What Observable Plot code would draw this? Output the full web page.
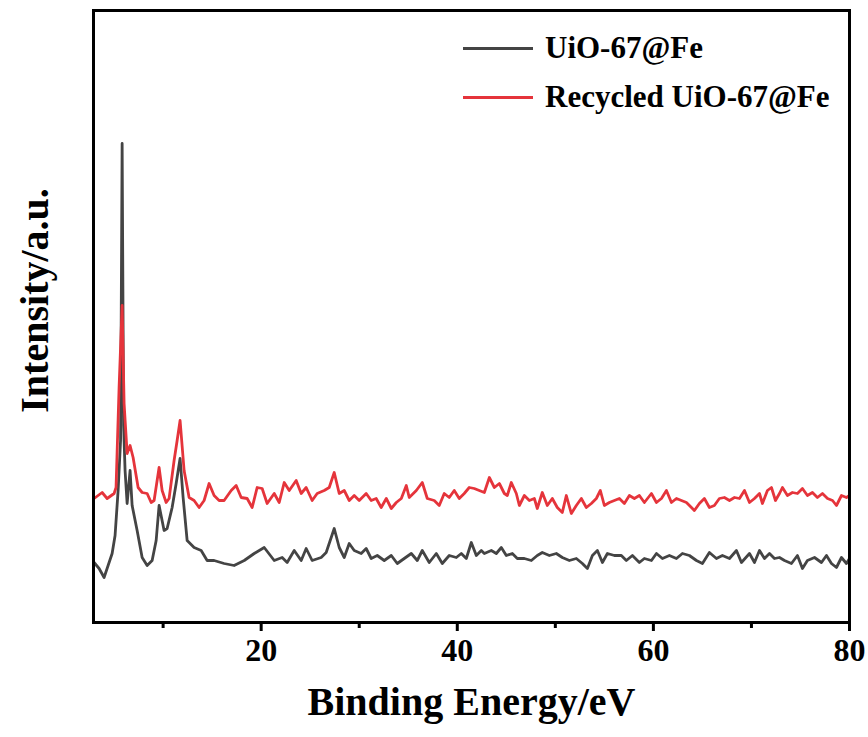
<!DOCTYPE html>
<html>
<head>
<meta charset="utf-8">
<script src="https://cdn.jsdelivr.net/npm/d3@7"></script>
<script src="https://cdn.jsdelivr.net/npm/@observablehq/plot@0.6"></script>
<style>
  html, body { margin: 0; padding: 0; background: #fff; }
  #wrap { position: relative; width: 868px; height: 737px; font-family: "Liberation Serif", "Times New Roman", serif; }
  #wrap svg text { font-family: "Liberation Serif", "Times New Roman", serif; font-weight: bold; fill: #000; }
  .leg { position: absolute; left: 463px; display: flex; align-items: center; font-weight: bold; font-size: 31px; color: #000; white-space: nowrap; }
  .leg .ln { width: 70px; height: 0; border-top: 3px solid; margin-right: 12px; }
</style>
</head>
<body>
<div id="wrap"></div>
<script>
// Binding energy (eV) and intensity (a.u.)
const seriesNames = ["UiO-67@Fe", "Recycled UiO-67@Fe"];
const seriesColors = ["#444444", "#e5343b"];

const blackEnergy = [2.96,3.47,3.98,4.39,4.80,5.10,5.41,5.66,5.82,5.97,6.12,6.33,6.63,6.84,7.35,7.86,8.37,8.88,9.29,9.59,10.10,10.41,10.92,11.33,11.73,12.04,12.45,13.16,13.88,14.49,15.20,16.22,17.24,18.27,19.29,20.31,21.33,22.14,22.65,23.37,24.08,24.59,25.20,26.12,26.63,27.45,27.96,28.47,28.98,29.49,30.20,30.71,31.22,31.84,32.55,33.27,33.88,34.59,35.31,35.92,36.43,37.14,37.86,38.47,39.18,39.90,40.41,40.92,41.43,41.94,42.45,42.76,43.47,43.98,44.49,45.00,45.61,46.12,46.84,47.55,48.16,48.67,49.39,50.10,50.71,51.43,52.14,52.76,53.27,53.78,54.29,54.80,55.31,56.02,56.73,57.24,57.86,58.57,59.08,59.80,60.31,60.92,61.63,62.35,62.96,63.67,64.39,65.00,65.71,66.43,67.04,67.76,68.47,68.98,69.80,70.31,70.82,71.33,71.84,72.35,72.86,73.37,74.08,74.69,75.20,75.71,76.43,77.14,77.65,78.16,78.67,79.18,79.69,80.00];
const blackIntensity = [60,54,45,57,69,87,132,182,479,197,152,119,152,117,92,65,57,62,82,117,92,94,115,139,164,125,82,75,72,62,62,59,57,62,69,75,62,65,60,72,62,74,62,65,70,94,75,65,79,72,69,74,64,67,62,67,59,64,69,62,72,60,69,59,67,65,69,64,80,67,72,69,72,69,75,67,69,64,64,62,67,70,67,69,65,62,64,59,54,67,72,60,69,67,67,62,67,60,64,62,69,64,67,64,69,67,62,59,70,64,67,64,72,60,69,60,72,64,69,64,65,62,59,67,54,62,65,60,67,59,55,65,59,64];

const redEnergy = [2.96,3.78,4.29,5.00,5.20,5.51,5.82,6.02,6.33,6.63,6.94,7.45,7.86,8.37,8.78,9.08,9.59,9.90,10.31,10.61,11.12,11.43,11.73,12.14,12.65,13.16,13.67,14.18,14.69,15.20,15.71,16.22,16.94,17.45,17.96,18.57,19.08,19.59,20.10,20.61,21.33,21.84,22.35,22.86,23.57,24.08,24.59,25.20,25.71,26.43,26.94,27.45,27.96,28.47,28.98,29.49,30.00,30.71,31.22,31.73,32.24,32.76,33.27,33.78,34.29,34.80,35.10,35.82,36.43,36.94,37.65,38.16,38.67,39.18,39.69,40.20,40.71,41.22,41.73,42.24,42.76,43.27,43.78,44.29,44.80,45.10,45.51,46.02,46.33,46.84,47.35,47.86,48.16,48.67,49.18,49.69,50.20,50.71,51.12,51.63,52.14,52.65,53.16,53.67,54.18,54.59,55.00,55.51,56.02,56.53,57.04,57.55,58.06,58.57,59.08,59.80,60.31,60.82,61.33,61.84,62.35,62.86,63.37,63.88,64.18,64.69,65.20,65.71,66.22,66.73,67.24,67.76,68.27,68.78,69.29,69.80,70.31,70.82,71.12,71.63,72.04,72.45,72.86,73.16,73.67,74.18,74.69,75.20,75.71,76.22,76.73,77.24,77.76,78.27,78.67,79.18,79.69,80.00];
const redIntensity = [124,130,124,129,135,235,317,219,169,177,165,135,130,129,120,122,155,132,120,124,162,182,202,152,125,122,115,122,139,127,122,122,132,137,125,124,115,135,134,119,129,120,140,132,142,129,135,122,129,132,135,150,129,132,122,127,122,129,122,124,115,124,114,120,124,137,125,132,140,124,122,117,129,125,132,124,129,135,134,132,130,145,135,139,129,127,140,129,117,127,122,124,114,130,117,124,115,110,127,109,117,124,115,119,124,132,117,120,122,124,119,127,124,127,120,129,120,124,132,120,124,122,120,115,112,119,124,115,117,124,125,122,125,124,132,120,124,129,119,132,135,122,129,135,127,130,129,134,127,130,125,129,124,122,117,127,125,127];

const xTicks = [20, 40, 60, 80];
const xMinorTicks = [10, 30, 50, 70];

const rows = [];
blackEnergy.forEach((e, i) => rows.push({series: seriesNames[0], energy: e, intensity: blackIntensity[i]}));
redEnergy.forEach((e, i) => rows.push({series: seriesNames[1], energy: e, intensity: redIntensity[i]}));

const chart = Plot.plot({
  width: 868,
  height: 737,
  marginLeft: 93,
  marginRight: 19,
  marginTop: 10,
  marginBottom: 115,
  style: {fontFamily: "Liberation Serif, Times New Roman, serif", background: "#fff"},
  x: {domain: [2.9, 80]},
  y: {domain: [0, 612], axis: null},
  color: {domain: seriesNames, range: seriesColors},
  marks: [
    Plot.line(rows, {x: "energy", y: "intensity", z: "series", stroke: "series", strokeWidth: 2.8, curve: "linear"}),
    Plot.frame({stroke: "#000", strokeWidth: 3}),
    Plot.axisX({ticks: xTicks, tickSize: 9, tickPadding: 7, strokeWidth: 3, fontSize: 32, fontWeight: "bold", label: null}),
    Plot.axisX({ticks: xMinorTicks, tickSize: 6, strokeWidth: 3, tickFormat: () => "", label: null}),
    Plot.text(["Binding Energy/eV"], {frameAnchor: "bottom", dy: 92, fontSize: 40, fontWeight: "bold", fill: "#000"}),
    Plot.text(["Intensity/a.u."], {frameAnchor: "left", dx: -58, dy: -16, rotate: -90, textAnchor: "middle", fontSize: 40, fontWeight: "bold", fill: "#000"})
  ]
});

const wrap = document.getElementById("wrap");
wrap.appendChild(chart);

// Legend (HTML overlay inside the plot frame)
const legTops = [31, 80];
seriesNames.forEach((name, i) => {
  const row = document.createElement("div");
  row.className = "leg";
  row.style.top = legTops[i] + "px";
  row.style.height = "34px";
  const ln = document.createElement("span");
  ln.className = "ln";
  ln.style.borderTopColor = seriesColors[i];
  const tx = document.createElement("span");
  tx.textContent = name;
  row.appendChild(ln);
  row.appendChild(tx);
  wrap.appendChild(row);
});
</script>
</body>
</html>
